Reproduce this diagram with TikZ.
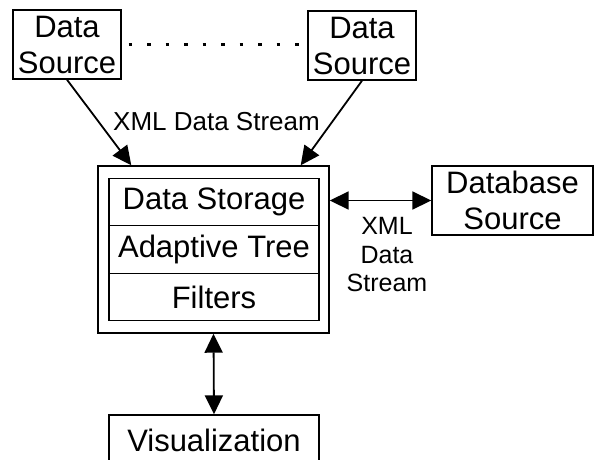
\documentclass[tikz,border=0pt]{standalone}
\usepackage{fontspec}
\setmainfont{Liberation Sans}
\usetikzlibrary{arrows.meta,calc}
\begin{document}
\begin{tikzpicture}[x=1pt,y=-1pt,
  box/.style={draw,line width=1.4pt,inner sep=0pt,align=center,font=\fontsize{31}{36}\selectfont},
  frame/.style={draw,line width=1.4pt,inner sep=0pt},
  lbl/.style={inner sep=0pt,align=center},
  arr/.style={line width=1.8pt,-{Triangle[length=19pt,width=18pt]}},
  darr/.style={line width=1.8pt,{Triangle[length=19pt,width=18pt]}-{Triangle[length=19pt,width=18pt]}},
  dots/.style={line width=3.5pt,dash pattern=on 3.5pt off 15pt}]
\useasboundingbox (0,0) rectangle (595,459);
% sources
\node[box,minimum width=108pt,minimum height=69pt] (ds1) at (67,44.5) {Data\\Source};
\node[box,minimum width=108pt,minimum height=69pt] (ds2) at (362,45.5) {Data\\Source};
% central block
\node[frame,minimum width=231pt,minimum height=167pt] (outer) at (213.5,249.5) {};
\node[box,minimum width=210pt,minimum height=47.5pt] (store) at (214,202) {Data Storage};
\node[box,minimum width=210pt,minimum height=47.5pt] (tree) at (214,249.5) {Adaptive Tree};
\node[box,minimum width=210pt,minimum height=47.5pt] (filt) at (214,297) {Filters};
% database
\node[box,minimum width=161pt,minimum height=69pt] (db) at (512.5,200.5) {Database\\Source};
% visualization
\node[box,minimum width=210pt,minimum height=50pt] (vis) at (214,440) {Visualization};
% labels
\node[lbl,font=\fontsize{26}{30}\selectfont,anchor=base] (l1) at (216.5,130) {XML Data Stream};
\node[lbl,font=\fontsize{25}{28.5}\selectfont] (l2) at (387,255) {XML\\Data\\Stream};
% connectors
\coordinate (inA) at ($(outer.north west)+(34,0)$);
\coordinate (inB) at ($(outer.north east)+(-29,0)$);
\draw[arr] (ds1.south) -- (inA);
\draw[arr] (ds2.south) -- (inB);
\draw[darr] (outer.east |- db.west) -- (db.west);
\draw[darr] (outer.south) -- (vis.north);
\draw[dots,shorten <=7pt,shorten >=3pt] (ds1.east) -- (ds1.east -| ds2.west);
\end{tikzpicture}
\end{document}
